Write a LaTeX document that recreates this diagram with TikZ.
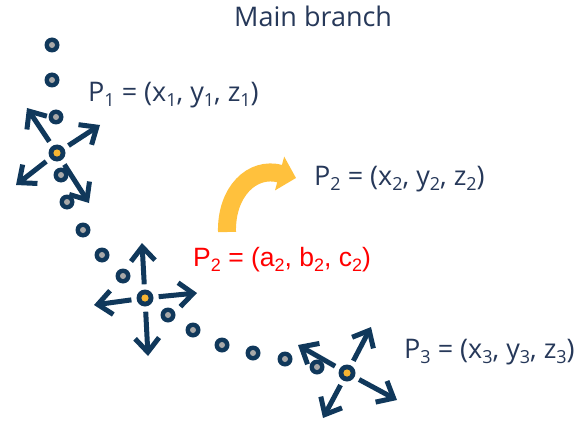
\documentclass[tikz,border=0pt]{standalone}
\usepackage{fontspec}
\setmainfont{Open Sans}
\newfontfamily\redfont{Liberation Sans}
\usetikzlibrary{arrows.meta}
\definecolor{navy}{HTML}{10385B}
\definecolor{txt}{HTML}{263859}
\definecolor{ylw}{HTML}{FFC13D}
\definecolor{ctry}{HTML}{F6B532}
\definecolor{gry}{HTML}{A8A8A8}
\definecolor{redt}{HTML}{FF0000}
\newcommand\mysub[1]{\raisebox{-5pt}{\fontsize{18}{18}\selectfont #1}}
\tikzset{
  dotn/.style={circle,fill=navy,draw=none,minimum size=15pt,inner sep=0pt},
  ctr/.style={circle,fill=navy,draw=none,minimum size=17pt,inner sep=0pt},
  arr/.style={draw=navy,line width=5pt,shorten <=5pt,-{Straight Barb[length=14pt,width=24pt]}},
  lbl/.style={anchor=base west,inner sep=0pt,text=txt,font=\fontsize{27}{31}\selectfont},
  yarr/.style={draw=ylw,line width=18pt,-{Triangle[length=17pt,width=34pt]}}
}
\begin{document}
\begin{tikzpicture}[x=1pt,y=-1pt]
\useasboundingbox (0,0) rectangle (577,422);
% dots
\foreach \n/\x/\y in {a/52/45,b/52/80,c/56/117,d/61/175,e/67/202,f/83/230,g/102/255,h/123/276,
  i/168/315,j/193/330,k/222/345,l/253/353,m/285/359,n/317/367}
  {\node[dotn] (d\n) at (\x,\y) {};
   \fill[gry] (d\n.center) circle (3pt);}
% centers
\node[ctr] (c1) at (57,153) {};
\node[ctr] (c2) at (145,298) {};
\node[ctr] (c3) at (347,373) {};
\foreach \c in {c1,c2,c3} \fill[ctry] (\c.center) circle (3.6pt);
% arrow tips
\coordinate (t1a) at (27,108);
\coordinate (t1b) at (100,125);
\coordinate (t1c) at (16,185);
\coordinate (t1d) at (89,203);
\coordinate (t2a) at (142,243);
\coordinate (t2b) at (197,293);
\coordinate (t2c) at (94,305);
\coordinate (t2d) at (148,356);
\coordinate (t3a) at (371,327);
\coordinate (t3b) at (298,345);
\coordinate (t3c) at (323,418);
\coordinate (t3d) at (397,400);
\foreach \c/\t in {c1/t1a,c1/t1b,c1/t1c,c1/t1d,c2/t2a,c2/t2b,c2/t2c,c2/t2d,c3/t3a,c3/t3b,c3/t3c,c3/t3d}
  \draw[arr] (\c) -- (\t);
% yellow arrow
\coordinate (ys) at (227,232);
\coordinate (ye) at (296,178);
\draw[yarr] (ys) .. controls (226,192) and (252,166) .. (ye);
% labels
\node[lbl] (title) at (234,27) {Main branch};
\node[lbl] (l1) at (88,102) {P\mysub{1} = (x\mysub{1}, y\mysub{1}, z\mysub{1})};
\node[lbl] (l2) at (314,185) {P\mysub{2} = (x\mysub{2}, y\mysub{2}, z\mysub{2})};
\node[lbl,text=redt,font=\redfont\fontsize{26.5}{30}\selectfont] (l2r) at (193,266) {P\mysub{2} = (a\mysub{2}, b\mysub{2}, c\mysub{2})};
\node[lbl] (l3) at (404,358) {P\mysub{3} = (x\mysub{3}, y\mysub{3}, z\mysub{3})};
\end{tikzpicture}
\end{document}
